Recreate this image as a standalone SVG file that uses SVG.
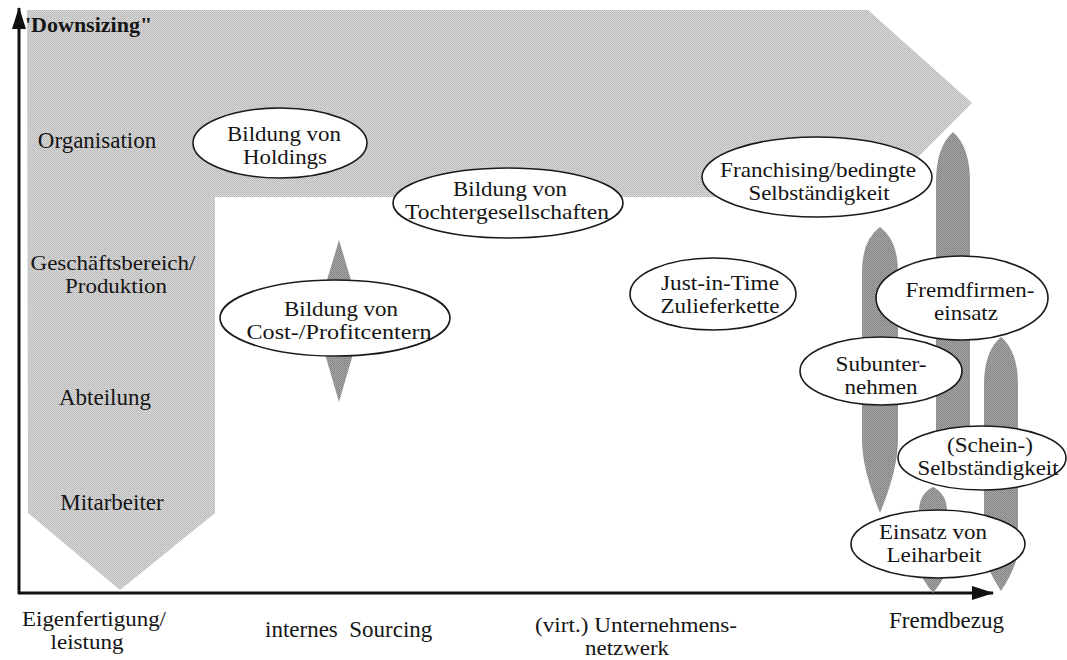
<svg xmlns="http://www.w3.org/2000/svg" width="1067" height="660" viewBox="0 0 1067 660">
  <defs>
    <!-- halftone-like screens for the grey areas -->
    <pattern id="screenLight" width="2" height="2" patternUnits="userSpaceOnUse">
      <rect width="2" height="2" fill="#d6d6d6"/>
      <rect width="1" height="1" fill="#b9b9b9"/>
      <rect x="1" y="1" width="1" height="1" fill="#c2c2c2"/>
    </pattern>
    <pattern id="screenDark" width="2" height="2" patternUnits="userSpaceOnUse">
      <rect width="2" height="2" fill="#a8a8a8"/>
      <rect width="1" height="1" fill="#7c7c7c"/>
      <rect x="1" y="1" width="1" height="1" fill="#8a8a8a"/>
    </pattern>
    <marker id="arrowHeadBig" markerWidth="22" markerHeight="14" refX="21" refY="7" orient="auto" markerUnits="userSpaceOnUse" viewBox="0 0 22 14">
      <path d="M0,0 L22,7 L0,14 Z" fill="#111"/>
    </marker>
  </defs>
  <style>
    .band { fill: url(#screenLight); }
    .spindle { fill: url(#screenDark); }
    .axis { stroke: #111; stroke-width: 3; fill: none; }
    .node ellipse { fill: #ffffff; stroke: #1a1a1a; stroke-width: 1.6; }
    text { font-family: "Liberation Serif", "Times New Roman", serif; font-size: 23px; fill: #151515; }
    .mid { text-anchor: middle; }
    .two { font-size: 21px; }
    .title { font-weight: bold; font-size: 22px; }
    .pre { white-space: pre; }
  </style>

  <rect width="1067" height="660" fill="#ffffff"/>

  <!-- grey "downsizing" band: horizontal arm pointing right, vertical arm pointing down -->
  <path id="downsizing-band" class="band" d="M27,10 L868,10 L972,103 L878,197 L215,197 L215,513 L120,590 L28,513 Z"/>

  <!-- axes -->
  <g id="axes">
    <line class="axis" x1="19" y1="594" x2="19" y2="8" marker-end="url(#arrowHeadBig)"/>
    <line class="axis" x1="18" y1="593" x2="993" y2="593" marker-end="url(#arrowHeadBig)"/>
  </g>

  <!-- vertical scale labels -->
  <g id="y-labels">
    <text class="title" x="25" y="32">'Downsizing"</text>
    <text class="mid" x="97" y="148">Organisation</text>
    <text class="mid two" x="113" y="270" textLength="165" lengthAdjust="spacingAndGlyphs">Geschäftsbereich/</text>
    <text class="mid two" x="116" y="293" textLength="102" lengthAdjust="spacingAndGlyphs">Produktion</text>
    <text class="mid" x="105" y="405">Abteilung</text>
    <text class="mid" x="112" y="510">Mitarbeiter</text>
  </g>

  <!-- horizontal scale labels -->
  <g id="x-labels">
    <text class="mid two" x="94" y="626" textLength="144" lengthAdjust="spacingAndGlyphs">Eigenfertigung/</text>
    <text class="mid two" x="87" y="649" textLength="73" lengthAdjust="spacingAndGlyphs">leistung</text>
    <text class="pre" x="265" y="637">internes  Sourcing</text>
    <text class="two" x="535" y="632" textLength="202" lengthAdjust="spacingAndGlyphs">(virt.) Unternehmens-</text>
    <text class="mid two" x="627" y="655" textLength="84" lengthAdjust="spacingAndGlyphs">netzwerk</text>
    <text x="889" y="628">Fremdbezug</text>
  </g>

  <!-- range bars behind the nodes -->
  <g id="connectors">
    <path class="spindle" d="M339,240 L363,320 L339,402 L315,320 Z"/>
    <path class="spindle" d="M880,227 Q898,240 898,272 L898,440 Q898,469 880,513 Q862,469 862,440 L862,272 Q862,240 880,227 Z"/>
    <path class="spindle" d="M953,132 Q970,147 970,182 L970,440 Q970,457 953,482 Q936,457 936,440 L936,182 Q936,147 953,132 Z"/>
    <path class="spindle" d="M1001,337 Q1018,351 1018,385 L1018,548 Q1018,565 1001,591 Q984,565 984,548 L984,385 Q984,351 1001,337 Z"/>
    <path class="spindle" d="M933,487 Q947,494 947,511 L947,565 Q947,576 933,593 Q919,576 919,565 L919,511 Q919,494 933,487 Z"/>
  </g>

  <g id="holdings" class="node">
    <ellipse cx="280" cy="143" rx="87" ry="35"/>
    <text class="mid two" x="284" y="141" textLength="114" lengthAdjust="spacingAndGlyphs">Bildung von</text>
    <text class="mid two" x="285" y="164" textLength="84" lengthAdjust="spacingAndGlyphs">Holdings</text>
  </g>

  <g id="tochtergesellschaften" class="node">
    <ellipse cx="508" cy="203" rx="115" ry="35"/>
    <text class="mid two" x="510" y="196" textLength="114" lengthAdjust="spacingAndGlyphs">Bildung von</text>
    <text class="mid two" x="507" y="219" textLength="204" lengthAdjust="spacingAndGlyphs">Tochtergesellschaften</text>
  </g>

  <g id="profitcenter" class="node">
    <ellipse cx="335" cy="318" rx="115" ry="38"/>
    <text class="mid two" x="341" y="316" textLength="114" lengthAdjust="spacingAndGlyphs">Bildung von</text>
    <text class="mid two" x="339" y="339" textLength="185" lengthAdjust="spacingAndGlyphs">Cost-/Profitcentern</text>
  </g>

  <g id="franchising" class="node">
    <ellipse cx="817" cy="177" rx="115" ry="40"/>
    <text class="mid two" x="818" y="177" textLength="196" lengthAdjust="spacingAndGlyphs">Franchising/bedingte</text>
    <text class="mid two" x="819" y="200" textLength="141" lengthAdjust="spacingAndGlyphs">Selbständigkeit</text>
  </g>

  <g id="just-in-time" class="node">
    <ellipse cx="713" cy="294" rx="83" ry="36"/>
    <text class="mid two" x="720" y="290" textLength="118" lengthAdjust="spacingAndGlyphs">Just-in-Time</text>
    <text class="mid two" x="720" y="313" textLength="119" lengthAdjust="spacingAndGlyphs">Zulieferkette</text>
  </g>

  <g id="fremdfirmen" class="node">
    <ellipse cx="962" cy="298" rx="86" ry="42"/>
    <text class="mid two" x="970" y="297" textLength="129" lengthAdjust="spacingAndGlyphs">Fremdfirmen-</text>
    <text class="mid two" x="966" y="320" textLength="64" lengthAdjust="spacingAndGlyphs">einsatz</text>
  </g>

  <g id="subunternehmen" class="node">
    <ellipse cx="881" cy="371" rx="81" ry="34"/>
    <text class="mid two" x="881" y="371" textLength="91" lengthAdjust="spacingAndGlyphs">Subunter-</text>
    <text class="mid two" x="881" y="394" textLength="73" lengthAdjust="spacingAndGlyphs">nehmen</text>
  </g>

  <g id="scheinselbstaendigkeit" class="node">
    <ellipse cx="982" cy="458" rx="84" ry="32"/>
    <text class="mid two" x="990" y="452" textLength="86" lengthAdjust="spacingAndGlyphs">(Schein-)</text>
    <text class="mid two" x="988" y="475" textLength="141" lengthAdjust="spacingAndGlyphs">Selbständigkeit</text>
  </g>

  <g id="leiharbeit" class="node">
    <ellipse cx="938" cy="544" rx="87" ry="34"/>
    <text class="mid two" x="933" y="539" textLength="108" lengthAdjust="spacingAndGlyphs">Einsatz von</text>
    <text class="mid two" x="934" y="562" textLength="95" lengthAdjust="spacingAndGlyphs">Leiharbeit</text>
  </g>
</svg>
